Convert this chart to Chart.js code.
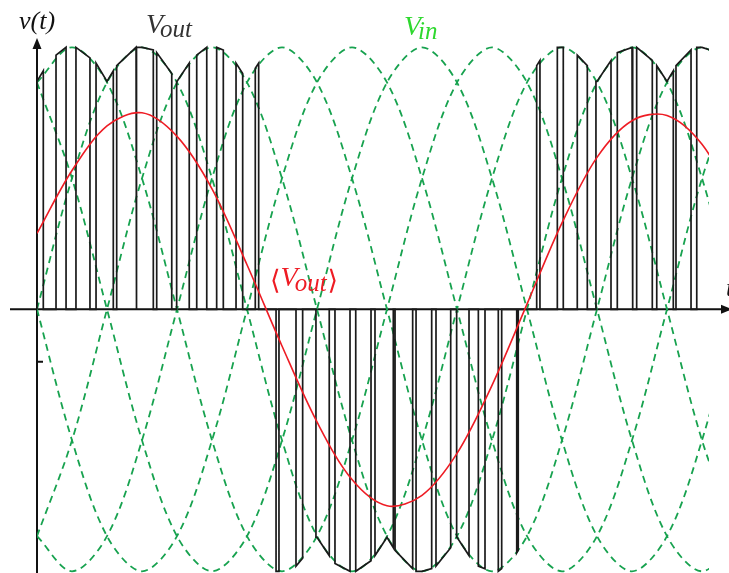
<!DOCTYPE html>
<html>
<head>
<meta charset="utf-8">
<script src="https://cdn.jsdelivr.net/npm/chart.js@4.4.0/dist/chart.umd.min.js"></script>
<style>
  html, body { margin: 0; padding: 0; background: #fff; }
  #wrap { width: 729px; height: 573px; }
</style>
</head>
<body>
<div id="wrap"><canvas id="vChart" width="729" height="573"></canvas></div>
<script>
// x = angle of the input voltage in degrees (one input period = 360)
const phaseDeg = [0, 30, 60, 90, 120, 150, 180, 210, 240, 270, 300, 330, 360, 390, 420, 450, 480, 510, 540, 570, 600];

// six input curves (three phases and their negatives), read at the crossings
const vinA = [0, 0.5, 0.866, 1, 0.866, 0.5, 0, -0.5, -0.866, -1, -0.866, -0.5, 0, 0.5, 0.866, 1, 0.866, 0.5, 0, -0.5, -0.866];
const vinB = [0.866, 1, 0.866, 0.5, 0, -0.5, -0.866, -1, -0.866, -0.5, 0, 0.5, 0.866, 1, 0.866, 0.5, 0, -0.5, -0.866, -1, -0.866];
const vinC = [0.866, 0.5, 0, -0.5, -0.866, -1, -0.866, -0.5, 0, 0.5, 0.866, 1, 0.866, 0.5, 0, -0.5, -0.866, -1, -0.866, -0.5, 0];
const vinD = [0, -0.5, -0.866, -1, -0.866, -0.5, 0, 0.5, 0.866, 1, 0.866, 0.5, 0, -0.5, -0.866, -1, -0.866, -0.5, 0, 0.5, 0.866];
const vinE = [-0.866, -1, -0.866, -0.5, 0, 0.5, 0.866, 1, 0.866, 0.5, 0, -0.5, -0.866, -1, -0.866, -0.5, 0, 0.5, 0.866, 1, 0.866];
const vinF = [-0.866, -0.5, 0, 0.5, 0.866, 1, 0.866, 0.5, 0, -0.5, -0.866, -1, -0.866, -0.5, 0, 0.5, 0.866, 1, 0.866, 0.5, 0];

// mean output <Vout>, same x positions
const avgOut = [0.29, 0.53, 0.70, 0.75, 0.66, 0.46, 0.17, -0.14, -0.43, -0.65, -0.75, -0.71, -0.55, -0.29, 0.02, 0.33, 0.58, 0.72, 0.74, 0.63, 0.40];

// Vout pulses: each one is the [x, level] points along its top (or bottom), it drops to 0 at both ends
const voutPulses = [
    [[0, 0.87], [5.4, 0.91]],
    [[16.3, 0.97], [24.9, 1.0]],
    [[33.4, 1.0], [45.4, 0.96]],
    [[50.6, 0.94], [60, 0.87], [65.4, 0.91]],
    [[68.3, 0.93], [84.9, 1.0]],
    [[85.5, 1.0], [90, 1.0], [99.7, 0.99]],
    [[102.6, 0.98], [115.5, 0.90]],
    [[119.7, 0.87], [120, 0.87], [130.5, 0.94]],
    [[136.9, 0.97], [145.5, 1.0]],
    [[154, 1.0], [159.7, 0.99]],
    [[170.6, 0.94], [176.3, 0.90]],
    [[187.1, 0.92], [190, 0.94]],
    [[204.9, -1.0], [207.4, -1.0]],
    [[222, -0.98], [227.7, -0.95]],
    [[239.1, -0.87], [240, -0.87], [250.5, -0.94]],
    [[255.4, -0.97], [268.3, -1.0]],
    [[273.2, -1.0], [286.3, -0.96]],
    [[289.7, -0.94], [300, -0.87], [305.4, -0.91]],
    [[306.9, -0.92], [322, -0.99]],
    [[324.9, -1.0], [330, -1.0], [338.3, -0.99]],
    [[342, -0.98], [354.6, -0.91]],
    [[359.7, -0.87], [360, -0.87], [370.3, -0.94]],
    [[378.3, -0.98], [384, -0.99]],
    [[395.4, -1.0], [398.3, -0.99]],
    [[411.2, -0.93], [412.5, -0.92]],
    [[428.3, 0.93], [431.1, 0.95]],
    [[446, 1.0], [451.1, 1.0]],
    [[463.1, 0.97], [471.7, 0.93]],
    [[479.1, 0.87], [480, 0.87], [492, 0.95]],
    [[497.4, 0.98], [510, 1.0], [510.6, 1.0]],
    [[514, 1.0], [527.4, 0.95]],
    [[531.2, 0.93], [540, 0.87], [545.4, 0.91]],
    [[547.7, 0.93], [560.6, 0.99]],
    [[565.5, 1.0], [570, 1.0], [590, 0.97]]
];

const vinCurves = [vinA, vinB, vinC, vinD, vinE, vinF];

const toPoints = (vals) => phaseDeg.map((x, i) => ({ x: x, y: vals[i] }));

const voutPoints = [];
voutPulses.forEach(p => {
    voutPoints.push({ x: p[0][0], y: 0 });
    p.forEach(([x, y]) => voutPoints.push({ x: x, y: y }));
    voutPoints.push({ x: p[p.length - 1][0], y: 0 });
});

// axes with arrows + the text labels
const axesPlugin = {
    id: 'axesPlugin',
    beforeDatasetsDraw(chart) {
        const { ctx, scales: { x, y } } = chart;
        const x0 = x.getPixelForValue(0);
        const y0 = y.getPixelForValue(0);
        ctx.save();
        ctx.strokeStyle = '#111';
        ctx.lineWidth = 2;
        ctx.beginPath();
        ctx.moveTo(10, y0);
        ctx.lineTo(chart.width, y0);
        ctx.moveTo(x0, chart.height);
        ctx.lineTo(x0, 46);
        // small tick on the v axis
        const yt = y.getPixelForValue(-0.2);
        ctx.moveTo(x0, yt);
        ctx.lineTo(x0 + 6, yt);
        ctx.stroke();
        ctx.fillStyle = '#111';
        ctx.beginPath();
        ctx.moveTo(x0, 38);
        ctx.lineTo(x0 - 4.5, 49);
        ctx.lineTo(x0 + 4.5, 49);
        ctx.closePath();
        ctx.fill();
        ctx.beginPath();
        ctx.moveTo(chart.width + 3, y0);
        ctx.lineTo(chart.width - 8, y0 - 4.5);
        ctx.lineTo(chart.width - 8, y0 + 4.5);
        ctx.closePath();
        ctx.fill();
        ctx.restore();
    },
    afterDatasetsDraw(chart) {
        const ctx = chart.ctx;
        const serif = '"Liberation Serif", "DejaVu Serif", serif';
        ctx.save();
        ctx.textBaseline = 'alphabetic';

        ctx.fillStyle = '#111';
        ctx.font = 'italic 26px ' + serif;
        ctx.fillText('v(t)', 19, 29);
        ctx.fillText('t', 726, 296);

        // Vout
        ctx.fillStyle = '#333';
        ctx.font = 'italic 28px ' + serif;
        ctx.fillText('V', 146, 33);
        let w = ctx.measureText('V').width;
        ctx.font = 'italic 25px ' + serif;
        ctx.fillText('out', 146 + w - 3, 37);

        // Vin
        ctx.fillStyle = '#2ed82e';
        ctx.font = 'italic 28px ' + serif;
        ctx.fillText('V', 404, 35);
        w = ctx.measureText('V').width;
        ctx.font = 'italic 25px ' + serif;
        ctx.fillText('in', 404 + w - 3, 39);

        // <Vout>
        ctx.fillStyle = '#ee1c24';
        ctx.font = '27px ' + serif;
        ctx.fillText('\u27E8', 270, 289);
        let px = 270 + ctx.measureText('\u27E8').width;
        ctx.font = 'italic 28px ' + serif;
        ctx.fillText('V', px, 286);
        px += ctx.measureText('V').width - 3;
        ctx.font = 'italic 25px ' + serif;
        ctx.fillText('out', px, 291);
        px += ctx.measureText('out').width + 1;
        ctx.font = '27px ' + serif;
        ctx.fillText('\u27E9', px, 289);
        ctx.restore();
    }
};

const datasets = [];
datasets.push({
    label: '<Vout>',
    data: toPoints(avgOut),
    borderColor: '#ee1c24',
    borderWidth: 1.6,
    tension: 0.33,
    order: 0
});
datasets.push({
    label: 'Vout',
    data: voutPoints,
    borderColor: '#1a1a1a',
    borderWidth: 1.7,
    tension: 0,
    order: 1
});
vinCurves.forEach((vals, i) => {
    datasets.push({
        label: 'Vin ' + (i + 1),
        data: toPoints(vals),
        borderColor: '#17a24f',
        borderWidth: 1.8,
        borderDash: [7, 5],
        tension: 0.33,
        order: 2
    });
});

new Chart(document.getElementById('vChart').getContext('2d'), {
    type: 'line',
    data: { datasets: datasets },
    options: {
        responsive: false,
        animation: false,
        layout: { padding: { left: 37, right: 20, top: 40, bottom: 0 } },
        elements: { point: { radius: 0 } },
        scales: {
            x: { type: 'linear', min: 0, max: 576, display: false },
            y: { type: 'linear', min: -1.0065, max: 1.028, display: false }
        },
        plugins: {
            legend: { display: false },
            tooltip: { enabled: false }
        }
    },
    plugins: [axesPlugin]
});
</script>
</body>
</html>
